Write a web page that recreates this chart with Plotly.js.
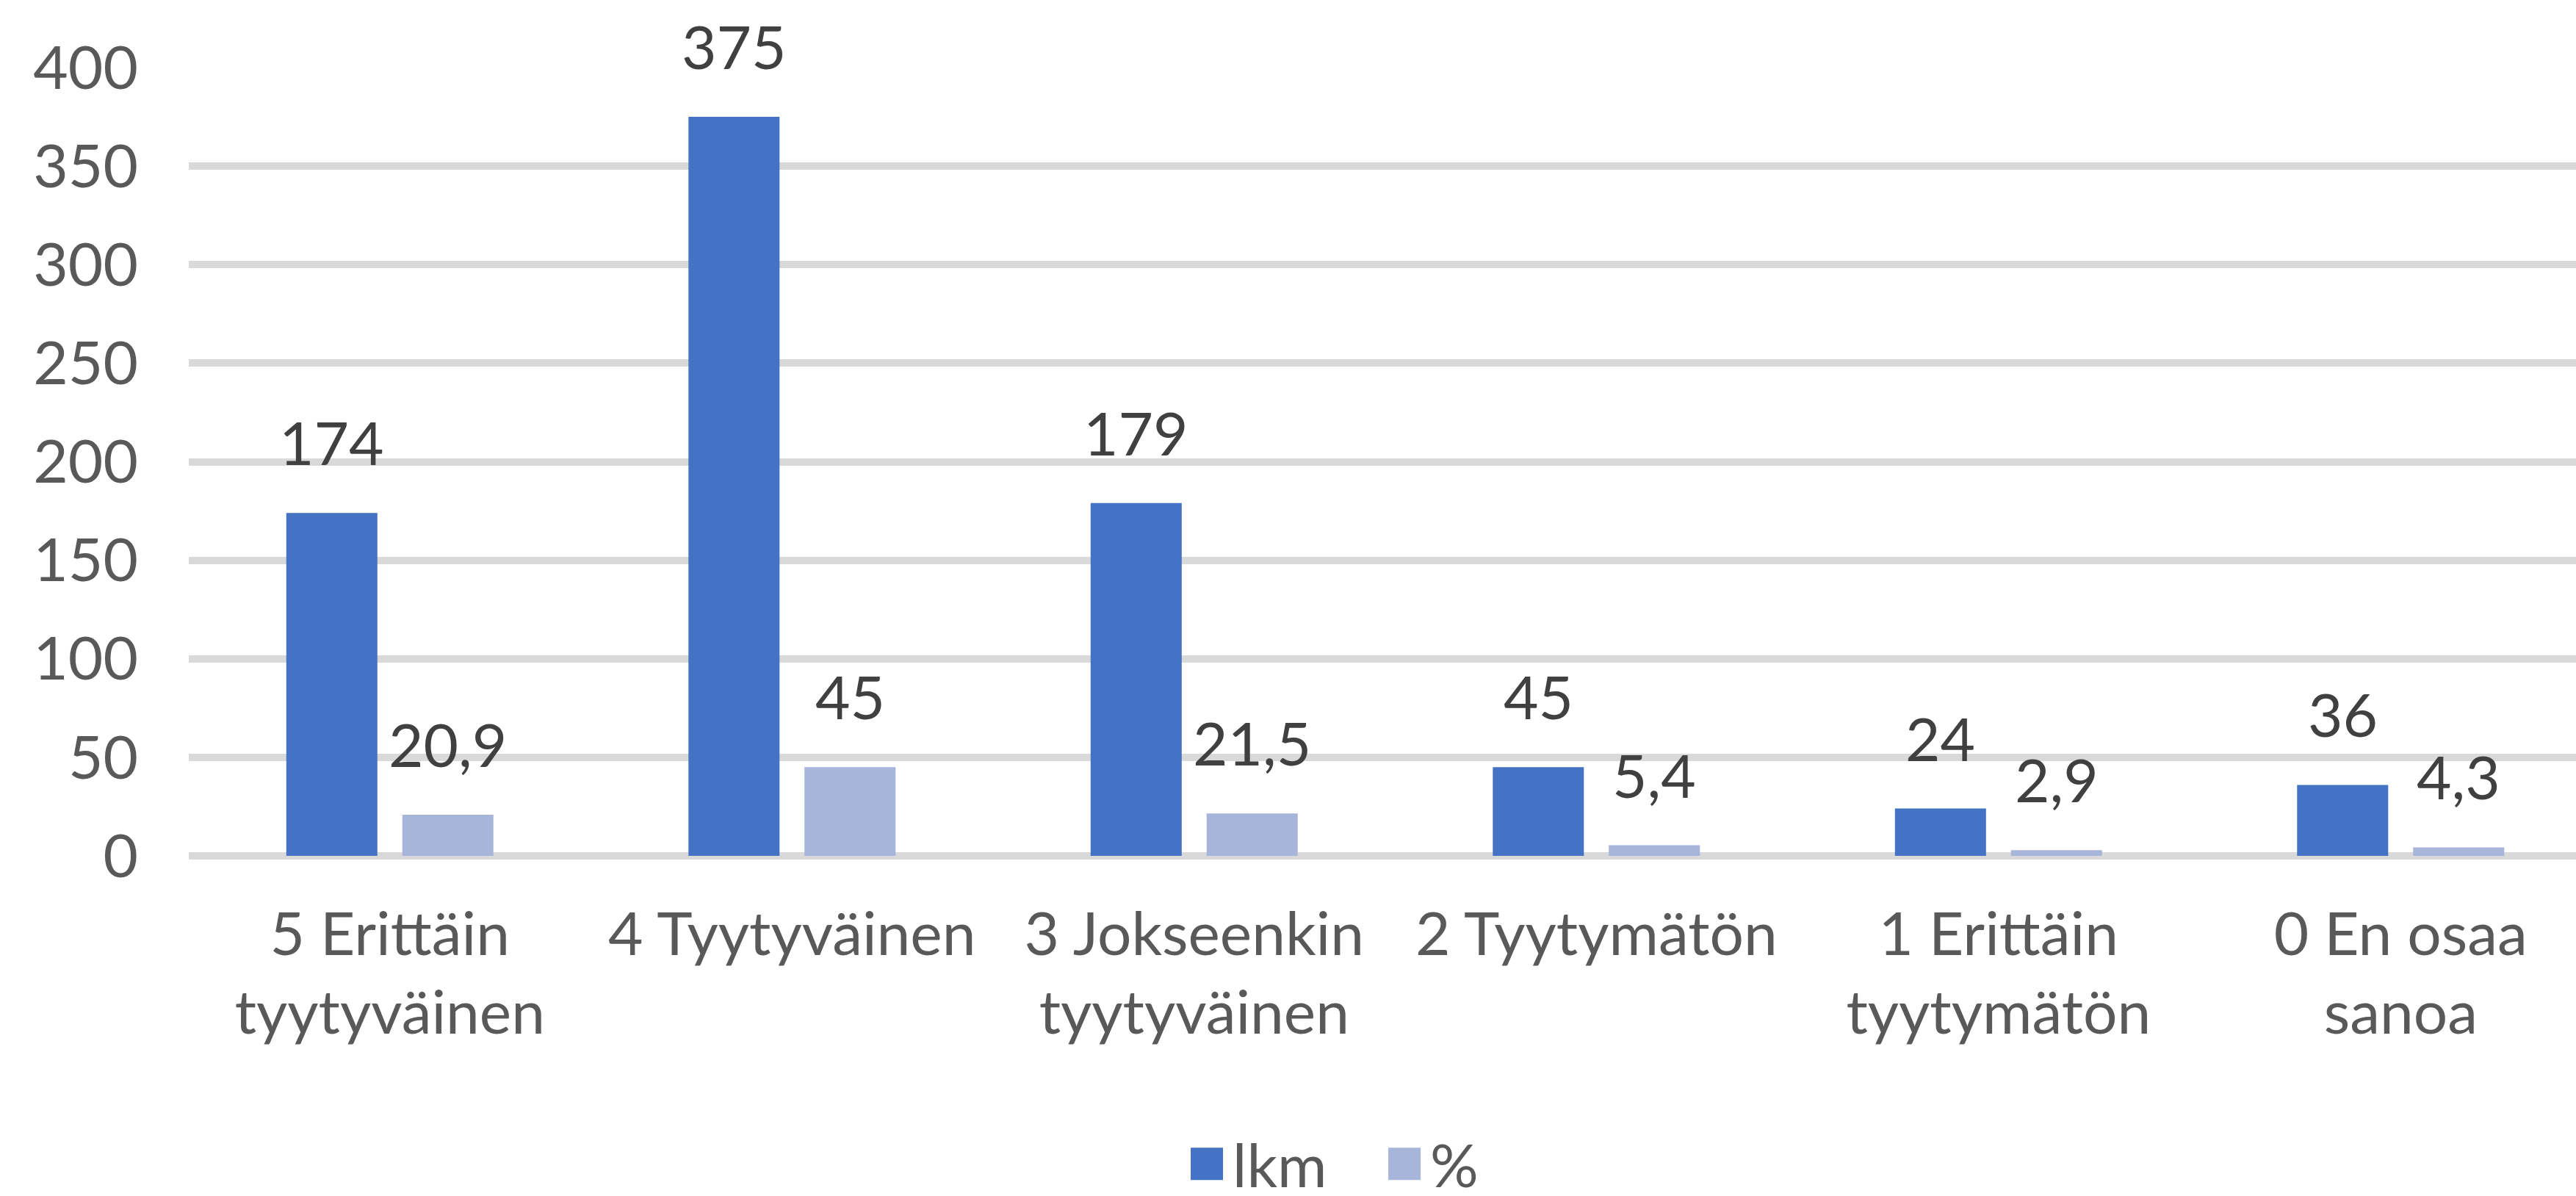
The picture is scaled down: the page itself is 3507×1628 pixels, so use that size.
<!DOCTYPE html>
<html>
<head>
<meta charset="utf-8">
<script src="https://cdn.plot.ly/plotly-3.0.1.min.js"></script>
<style>
  html, body { margin: 0; padding: 0; background: #fff; }
  #chart { width: 3507px; height: 1628px; }
</style>
</head>
<body>
<div id="chart"></div>
<script>
const categories = [
  '5 Erittäin<br>tyytyväinen',
  '4 Tyytyväinen',
  '3 Jokseenkin<br>tyytyväinen',
  '2 Tyytymätön',
  '1 Erittäin<br>tyytymätön',
  '0 En osaa<br>sanoa'
];
const lkm = [174, 375, 179, 45, 24, 36];
const pct = [20.9, 45, 21.5, 5.4, 2.9, 4.3];
const yTicks = [0, 50, 100, 150, 200, 250, 300, 350, 400];

const fontFamily = 'Lato, "Open Sans", sans-serif';
const fs = 82;

const fmt = v => String(v).replace('.', ',');

// data labels above each bar, shifted onto the grouped bar slot
let annotations = [];
categories.forEach((c, i) => {
  annotations.push({
    x: c, y: lkm[i], text: fmt(lkm[i]), showarrow: false,
    xshift: -79, yshift: 46, yanchor: 'bottom',
    font: {family: fontFamily, size: fs, color: '#404040'}
  });
  annotations.push({
    x: c, y: pct[i], text: fmt(pct[i]), showarrow: false,
    xshift: 79, yshift: 46, yanchor: 'bottom',
    font: {family: fontFamily, size: fs, color: '#404040'}
  });
});

let data = [
  {type: 'bar', name: 'lkm', x: categories, y: lkm, marker: {color: '#4472C4'}, hoverinfo: 'none'},
  {type: 'bar', name: '%', x: categories, y: pct, marker: {color: '#A8B5DA'}, hoverinfo: 'none'}
];

let layout = {
  width: 3507,
  height: 1628,
  margin: {l: 257, r: 0, t: 92, b: 463, autoexpand: false},
  paper_bgcolor: '#ffffff',
  plot_bgcolor: '#ffffff',
  font: {family: fontFamily, size: fs, color: '#595959'},
  barmode: 'group',
  bargap: 0.423,
  bargroupgap: 0.215,
  xaxis: {
    type: 'category',
    range: [-0.5, 5.436],
    showgrid: false,
    showline: false,
    zeroline: false,
    ticks: '',
    ticklabelstandoff: 52,
    tickfont: {family: fontFamily, size: fs, color: '#595959'}
  },
  yaxis: {
    range: [0, 400],
    tickvals: yTicks,
    showgrid: true,
    gridcolor: '#D9D9D9',
    gridwidth: 10,
    zeroline: true,
    zerolinecolor: '#D9D9D9',
    zerolinewidth: 10,
    showline: false,
    ticks: '',
    ticklabelstandoff: 68,
    tickfont: {family: fontFamily, size: fs, color: '#595959'}
  },
  showlegend: true,
  legend: {
    orientation: 'h',
    x: 0.4157,
    xanchor: 'left',
    y: -0.335,
    yanchor: 'top',
    itemwidth: 60,
    entrywidth: 194,
    entrywidthmode: 'pixels',
    font: {family: fontFamily, size: fs, color: '#595959'}
  },
  annotations: annotations
};

Plotly.newPlot('chart', data, layout, {displayModeBar: false, staticPlot: true}).then(gd => {
  // bigger legend swatches, like the original
  gd.querySelectorAll('.legendpoints path').forEach(p => {
    p.setAttribute('d', 'M22,22H-22V-22H22Z');
  });
});
</script>
</body>
</html>
